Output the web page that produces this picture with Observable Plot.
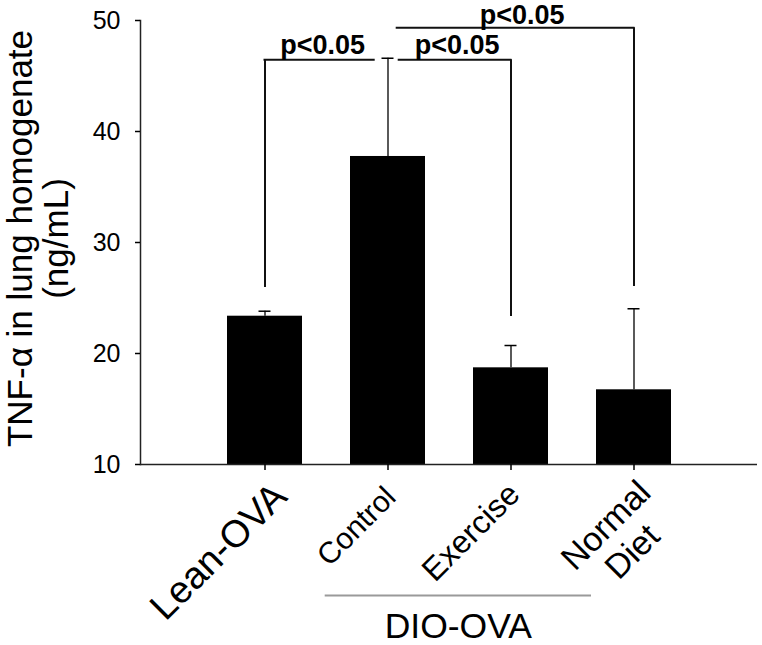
<!DOCTYPE html>
<html><head><meta charset="utf-8">
<script src="https://cdn.jsdelivr.net/npm/d3@7"></script>
<script src="https://cdn.jsdelivr.net/npm/@observablehq/plot@0.6"></script>
<style>
html,body{margin:0;padding:0;background:#fff;}
#chart svg{display:block;}
</style></head><body><div id="chart"></div>
<script>
// ---- data ----
const groups = ["Lean-OVA", "Control", "Exercise", "Normal Diet"];
const tickLabels = ["Lean-OVA", "Control", "Exercise", "Normal\nDiet"];
const means = [23.36, 37.75, 18.71, 16.73];
const upper = [23.81, 46.6, 20.72, 24.03];
const yTicks = [10, 20, 30, 40, 50];
const yTitle = "TNF-\u03b1 in lung homogenate\n(ng/mL)";
const groupLabel = "DIO-OVA";
const groupMembers = ["Control", "Exercise", "Normal Diet"];
const compFrom = ["Lean-OVA", "Control", "Control"];
const compTo = ["Control", "Exercise", "Normal Diet"];
const compLevel = [46.46, 46.46, 49.34];
const compDropFrom = [25.95, null, null];
const compDropTo = [null, 23.33, 26.04];
const compText = ["p<0.05", "p<0.05", "p<0.05"];

// ---- tables built from the arrays ----
const rows = groups.map((g, i) => ({group: g, mean: means[i], upper: upper[i], label: tickLabels[i]}));
const comps = compFrom.map((f, i) => ({from: f, to: compTo[i], level: compLevel[i], dropFrom: compDropFrom[i], dropTo: compDropTo[i], text: compText[i]}));
const drops = comps.flatMap(c => [
  c.dropFrom != null ? {x: c.from, y1: c.level, y2: c.dropFrom} : null,
  c.dropTo != null ? {x: c.to, y1: c.level, y2: c.dropTo} : null
].filter(Boolean));

// ---- styles ----
const font = "'Liberation Sans', Arial, Helvetica, sans-serif";
const bracketInsets = [[37.5, 51.3], [48.7, 37.5], [46.7, 37.5]];
const bracketLabelOffset = [[57.6, -6], [69.2, -6], [134.2, -4]];
const tickLabelStyle = [
  {fontSize: 38, dx: 3, dy: 13, textAnchor: "end"},
  {fontSize: 30, dx: -7, dy: 18, textAnchor: "end"},
  {fontSize: 32, dx: -7, dy: 14, textAnchor: "end"},
  {fontSize: 34, dx: -39, dy: 50, textAnchor: "middle"}
];

const chart = Plot.plot({
  width: 762,
  height: 645,
  marginLeft: 140,
  marginRight: 5,
  marginTop: 20,
  marginBottom: 181,
  style: {fontFamily: font, color: "#000", background: "#fff", overflow: "visible"},
  x: {domain: groups, paddingInner: 0.392, paddingOuter: 0.696, align: 0.5, axis: null},
  y: {domain: [10, 50], axis: null},
  marks: [
    // significance brackets
    ...comps.map((c, i) => Plot.ruleY([c], {x1: "from", x2: "to", y: "level", stroke: "#111", strokeWidth: 2,
      strokeLinecap: "square", insetLeft: bracketInsets[i][0], insetRight: bracketInsets[i][1]})),
    Plot.ruleX(drops, {x: "x", y1: "y1", y2: "y2", stroke: "#111", strokeWidth: 2}),
    ...comps.map((c, i) => Plot.text([c], {x: "from", y: "level", text: "text", fontWeight: "bold", fontSize: 27,
      lineAnchor: "bottom", dx: bracketLabelOffset[i][0], dy: bracketLabelOffset[i][1], fontFamily: font})),
    // bars + error bars
    Plot.barY(rows, {x: "group", y1: 10, y2: "mean", fill: "#000"}),
    Plot.ruleX(rows, {x: "group", y1: "mean", y2: "upper", stroke: "#000", strokeWidth: 1.3}),
    Plot.tickY(rows, {x: "group", y: "upper", stroke: "#000", strokeWidth: 1.5, insetLeft: 31.5, insetRight: 31.5}),
    // axes
    Plot.ruleY([10], {stroke: "#222", strokeWidth: 1.5}),
    Plot.frame({anchor: "left", stroke: "#222", strokeWidth: 1.5}),
    Plot.axisY({ticks: yTicks, tickSize: 5, tickPadding: 15, fontSize: 25, label: null, strokeWidth: 1.5, fontFamily: font}),
    Plot.axisX({tickSize: 6, tickFormat: () => "", label: null, strokeWidth: 1.5}),
    // x tick labels
    ...rows.map((r, i) => Plot.text([r], {x: "group", text: "label", frameAnchor: "bottom", rotate: -45,
      lineAnchor: "top", lineHeight: 1.1, fontFamily: font, ...tickLabelStyle[i]})),
    // group label
    Plot.ruleY([groupLabel], {x1: () => groupMembers[0], x2: () => groupMembers[2], y: null, dy: 353,
      insetLeft: -25.3, insetRight: 80, stroke: "#9a9a9a", strokeWidth: 2}),
    Plot.text([groupLabel], {x: () => groupMembers[1], frameAnchor: "bottom", lineAnchor: "bottom",
      dx: -52.7, dy: 173, fontSize: 35.5, fontFamily: font}),
    // y title
    Plot.text([yTitle], {frameAnchor: "left", rotate: -90, fontSize: 35, lineHeight: 1.03,
      dx: -102.5, dy: -4, textAnchor: "middle", lineAnchor: "middle", fontFamily: font})
  ]
});
document.getElementById("chart").appendChild(chart);
</script>
</body></html>
